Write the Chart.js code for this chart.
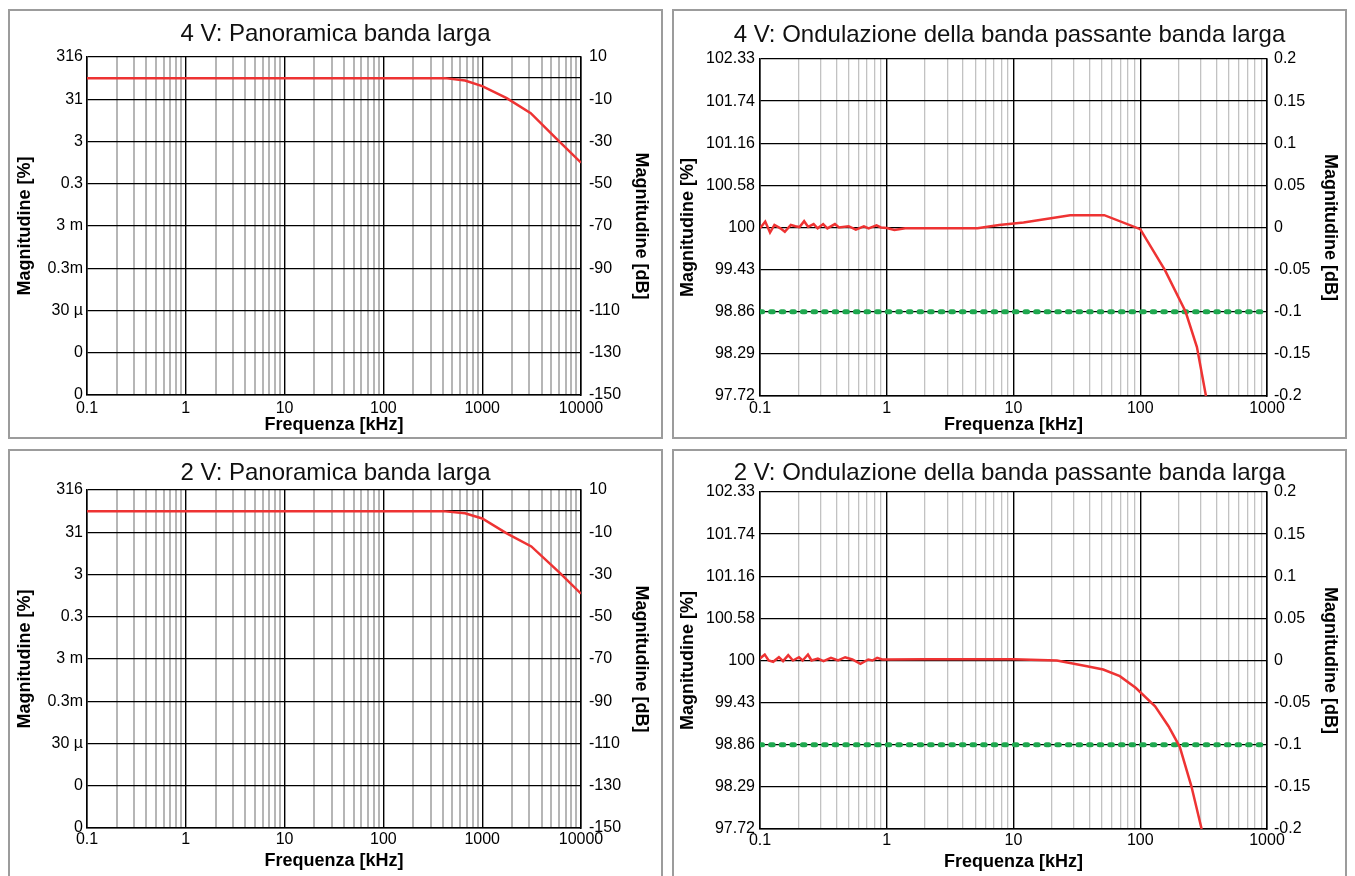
<!DOCTYPE html>
<html lang="it">
<head>
<meta charset="utf-8">
<title>Risposta in frequenza banda larga</title>
<script src="https://cdn.jsdelivr.net/npm/chart.js@4.4.1/dist/chart.umd.min.js"></script>
<style>
  html, body { margin: 0; padding: 0; background: #fff; overflow: hidden; }
  body { width: 1355px; height: 876px; position: relative; }
  .panel { position: absolute; border: 2px solid #9c9c9c; background: #fff; }
  .panel canvas { display: block; }
</style>
</head>
<body>
<div class="panel" style="left:8px;top:9px;"><canvas id="c-tl" width="651" height="426"></canvas></div>
<div class="panel" style="left:672px;top:9px;"><canvas id="c-tr" width="671" height="426"></canvas></div>
<div class="panel" style="left:8px;top:449px;"><canvas id="c-bl" width="651" height="425"></canvas></div>
<div class="panel" style="left:672px;top:449px;"><canvas id="c-br" width="671" height="425"></canvas></div>

<script>
// ============================================================
// Risposta in frequenza – panoramica e ondulazione (4 V / 2 V)
// ============================================================

const FONT = '"Liberation Sans", Arial, sans-serif';
const RED = "#ee3333";
const GREEN = "#1fa84f";

/* ---------- assi ---------- */
const overviewFreqTicks  = [0.1, 1, 10, 100, 1000, 10000];
const overviewFreqLabels = ["0.1", "1", "10", "100", "1000", "10000"];
const rippleFreqTicks    = [0.1, 1, 10, 100, 1000];
const rippleFreqLabels   = ["0.1", "1", "10", "100", "1000"];

const overviewDbTicks  = [10, -10, -30, -50, -70, -90, -110, -130, -150];
const overviewDbLabels = ["10", "-10", "-30", "-50", "-70", "-90", "-110", "-130", "-150"];
const overviewPctLabels = ["316", "31", "3", "0.3", "3 m", "0.3m", "30 µ", "0", "0"];
const overviewRefDb = [0];   // linea di riferimento 0 dB

const rippleDbTicks  = [0.2, 0.15, 0.1, 0.05, 0, -0.05, -0.1, -0.15, -0.2];
const rippleDbLabels = ["0.2", "0.15", "0.1", "0.05", "0", "-0.05", "-0.1", "-0.15", "-0.2"];
const ripplePctLabels = ["102.33", "101.74", "101.16", "100.58", "100", "99.43", "98.86", "98.29", "97.72"];

/* ---------- dati ---------- */
const overview4Freq = [0.1, 1, 10, 100, 420, 670, 1000, 1770, 3100, 5600, 10000];
const overview4Db   = [0, 0, 0, 0, 0, -1.1, -3.8, -9.5, -16.6, -28.5, -40];

const overview2Freq = [0.1, 1, 10, 100, 400, 670, 1000, 1770, 3140, 6100, 10000];
const overview2Db   = [0, 0, 0, 0, 0, -1.0, -3.5, -10.5, -16.7, -29.2, -39.1];

const ripple4Freq = [0.1, 0.11, 0.12, 0.13, 0.145, 0.157, 0.175, 0.19, 0.205, 0.223,
                     0.24, 0.265, 0.285, 0.315, 0.34, 0.39, 0.42, 0.5, 0.57, 0.66,
                     0.72, 0.83, 0.9, 1.0, 1.15, 1.4, 2, 5.2, 7.7, 12,
                     28, 52, 100, 157, 228, 280, 330];
const ripple4Db   = [-0.001, 0.007, -0.006, 0.003, -0.001, -0.005, 0.003, 0.0015, 0.0005, 0.0075,
                     0.0007, 0.004, -0.001, 0.004, -0.001, 0.004, 0.0, 0.0015, -0.0025, 0.0015,
                     -0.001, 0.0025, 0.0, -0.0005, -0.003, -0.001, -0.001, -0.001, 0.003, 0.006,
                     0.0146, 0.0146, -0.002, -0.051, -0.100, -0.142, -0.2];

const ripple2Freq = [0.1, 0.109, 0.117, 0.127, 0.141, 0.152, 0.167, 0.182, 0.203, 0.217,
                     0.239, 0.255, 0.286, 0.317, 0.363, 0.413, 0.47, 0.535, 0.62, 0.714,
                     0.77, 0.84, 0.92, 1.0, 2, 5, 10, 22, 38, 51,
                     69, 92, 131, 167, 205, 253, 305];
const ripple2Db   = [0.0024, 0.0071, 0.0, -0.0015, 0.0039, -0.0008, 0.0063, 0.0, 0.0039, 0.0,
                     0.0071, 0.0, 0.0024, -0.0008, 0.0032, 0.0, 0.0039, 0.0012, -0.0039, 0.0012,
                     0.0, 0.0032, 0.0012, 0.0012, 0.0015, 0.0015, 0.0015, 0.0, -0.0068, -0.0107,
                     -0.0186, -0.0324, -0.0543, -0.078, -0.1025, -0.149, -0.2];

const rippleLimitFreq = [0.1, 1000];
const rippleLimitDb   = [-0.1, -0.1];

/* ---------- helper ---------- */
function points(xs, ys) {
  return xs.map((x, i) => ({ x, y: ys[i] }));
}

function isDecade(v) {
  const l = Math.log10(v);
  return Math.abs(l - Math.round(l)) < 1e-9;
}

// griglia log: 1..9 per ogni decade
function logGrid(min, max) {
  const out = [];
  for (let e = Math.round(Math.log10(min)); e <= Math.round(Math.log10(max)); e++) {
    for (let k = 1; k <= 9; k++) {
      const v = k * Math.pow(10, e);
      if (v >= min * 0.999 && v <= max * 1.001) out.push(v);
    }
  }
  return out;
}

function indexOfTick(list, v) {
  return list.findIndex((t) => Math.abs(t - v) < 1e-9 * Math.max(1, Math.abs(t)));
}

/* =========================
   COSTRUZIONE PANNELLO
========================= */
function buildPanel(id, p) {
  const xMin = p.freqTicks[0];
  const xMax = p.freqTicks[p.freqTicks.length - 1];
  const yMax = p.dbTicks[0];
  const yMin = p.dbTicks[p.dbTicks.length - 1];
  const tickFont = { family: FONT, size: 16 };
  const axisTitleFont = { family: FONT, size: 18, weight: "bold" };

  new Chart(document.getElementById(id), {
    type: "line",
    data: { datasets: p.datasets },
    options: {
      responsive: false,
      animation: false,
      layout: { padding: 0 },
      elements: { point: { radius: 0 }, line: { tension: 0 } },
      plugins: {
        legend: { display: false },
        tooltip: { enabled: false },
        title: {
          display: true,
          text: p.title,
          color: "#111",
          font: { family: FONT, size: 24, weight: "normal" },
          padding: p.titlePad,
        },
      },
      scales: {
        x: {
          type: "logarithmic",
          min: xMin,
          max: xMax,
          afterBuildTicks: (s) => { s.ticks = logGrid(xMin, xMax).map((v) => ({ value: v })); },
          afterFit: (s) => { s.height = p.xHeight; },
          ticks: {
            autoSkip: false,
            maxRotation: 0,
            padding: p.xTickPad,
            color: "#000",
            font: tickFont,
            callback: (v) => {
              const i = indexOfTick(p.freqTicks, v);
              return i >= 0 ? p.freqLabels[i] : "";
            },
          },
          grid: {
            drawTicks: false,
            color: (ctx) => (isDecade(ctx.tick.value) ? "#000" : p.minorColor),
            lineWidth: (ctx) => (isDecade(ctx.tick.value) ? 1.4 : p.minorWidth),
          },
          border: { color: "#000", width: 1.5 },
          title: {
            display: true,
            text: "Frequenza [kHz]",
            color: "#000",
            font: axisTitleFont,
            padding: { top: 0, bottom: p.xTitlePad },
          },
        },
        y: {
          type: "linear",
          position: "left",
          min: yMin,
          max: yMax,
          afterBuildTicks: (s) => {
            s.ticks = p.dbTicks.concat(p.refTicks).sort((a, b) => a - b).map((v) => ({ value: v }));
          },
          afterFit: (s) => { s.width = p.leftWidth; },
          ticks: {
            padding: p.leftTickPad,
            color: "#000",
            font: tickFont,
            callback: (v) => {
              const i = indexOfTick(p.dbTicks, v);
              return i >= 0 ? p.pctLabels[i] : "";
            },
          },
          grid: { drawTicks: false, color: "#000", lineWidth: 1.3 },
          border: { color: "#000", width: 1.5 },
          title: {
            display: true,
            text: "Magnitudine [%]",
            color: "#000",
            font: axisTitleFont,
            padding: { top: p.leftTitlePad, bottom: 0 },
          },
        },
        y2: {
          type: "linear",
          position: "right",
          min: yMin,
          max: yMax,
          afterBuildTicks: (s) => { s.ticks = p.dbTicks.slice().sort((a, b) => a - b).map((v) => ({ value: v })); },
          afterFit: (s) => { s.width = p.rightWidth; },
          ticks: {
            padding: p.rightTickPad,
            color: "#000",
            font: tickFont,
            callback: (v) => {
              const i = indexOfTick(p.dbTicks, v);
              return i >= 0 ? p.dbLabels[i] : "";
            },
          },
          grid: { drawTicks: false, drawOnChartArea: false },
          border: { color: "#000", width: 1.5 },
          title: {
            display: true,
            text: "Magnitudine [dB]",
            color: "#000",
            font: axisTitleFont,
            padding: { top: p.rightTitlePad, bottom: 0 },
          },
        },
      },
    },
  });
}

function responseSet(xs, ys) {
  return { data: points(xs, ys), borderColor: RED, borderWidth: 2.5, yAxisID: "y" };
}

function limitSet() {
  return {
    data: points(rippleLimitFreq, rippleLimitDb),
    borderColor: GREEN,
    borderWidth: 5,
    borderDash: [2.6, 8],
    borderCapStyle: "round",
    yAxisID: "y",
  };
}

const overviewAxes = {
  freqTicks: overviewFreqTicks, freqLabels: overviewFreqLabels,
  dbTicks: overviewDbTicks, dbLabels: overviewDbLabels, pctLabels: overviewPctLabels,
  refTicks: overviewRefDb, minorWidth: 2, minorColor: "#b6b6b6",
  leftWidth: 77, rightWidth: 80, leftTickPad: 4, rightTickPad: 8,
  leftTitlePad: 4.2, rightTitlePad: 9.2,
};

const rippleAxes = {
  freqTicks: rippleFreqTicks, freqLabels: rippleFreqLabels,
  dbTicks: rippleDbTicks, dbLabels: rippleDbLabels, pctLabels: ripplePctLabels,
  refTicks: [], minorWidth: 1.3, minorColor: "#c2c2c2",
  leftWidth: 86, rightWidth: 78, leftTickPad: 5, rightTickPad: 7,
  leftTitlePad: 3.2, rightTitlePad: 4.2,
};

buildPanel("c-tl", Object.assign({}, overviewAxes, {
  title: "4 V: Panoramica banda larga",
  titlePad: { top: 9, bottom: 8.2 },
  xHeight: 42, xTickPad: 4, xTitlePad: 1.4,
  datasets: [responseSet(overview4Freq, overview4Db)],
}));

buildPanel("c-tr", Object.assign({}, rippleAxes, {
  title: "4 V: Ondulazione della banda passante banda larga",
  titlePad: { top: 9.6, bottom: 9.6 },
  xHeight: 41, xTickPad: 2.5, xTitlePad: 1.4,
  datasets: [responseSet(ripple4Freq, ripple4Db), limitSet()],
}));

buildPanel("c-bl", Object.assign({}, overviewAxes, {
  title: "2 V: Panoramica banda larga",
  titlePad: { top: 8, bottom: 2.2 },
  xHeight: 48, xTickPad: 2.4, xTitlePad: 4.2,
  datasets: [responseSet(overview2Freq, overview2Db)],
}));

buildPanel("c-br", Object.assign({}, rippleAxes, {
  title: "2 V: Ondulazione della banda passante banda larga",
  titlePad: { top: 8.4, bottom: 3.8 },
  xHeight: 47, xTickPad: 2.4, xTitlePad: 3.2,
  datasets: [responseSet(ripple2Freq, ripple2Db), limitSet()],
}));
</script>
</body>
</html>
